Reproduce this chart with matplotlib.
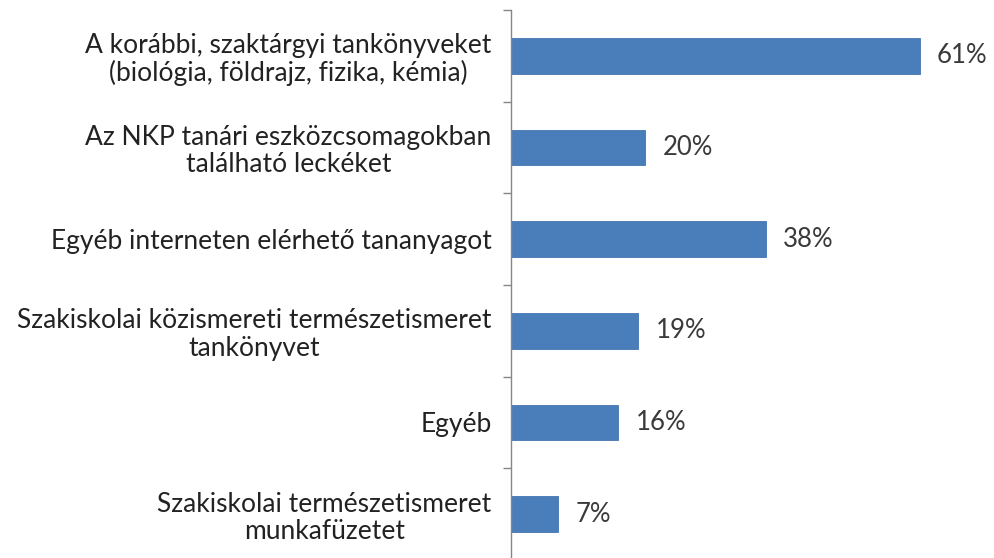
import matplotlib
matplotlib.use("Agg")
import matplotlib.pyplot as plt
import numpy as np

categories = [
    "A korábbi, szaktárgyi tankönyveket\n(biológia, földrajz, fizika, kémia)",
    "Az NKP tanári eszközcsomagokban\ntalálható leckéket",
    "Egyéb interneten elérhető tananyagot",
    "Szakiskolai közismereti természetismeret\ntankönyvet",
    "Egyéb",
    "Szakiskolai természetismeret\nmunkafüzetet",
]
values = [61, 20, 38, 19, 16, 7]
value_labels = ["61%", "20%", "38%", "19%", "16%", "7%"]

plt.rcParams["font.family"] = ["Lato", "DejaVu Sans"]

fig = plt.figure(figsize=(9.95, 5.58), dpi=100)
ax = fig.add_axes([511 / 995, 1 - 560 / 558, 469 / 995, 550 / 558])

y = np.arange(len(categories))
ax.barh(y, values, height=0.39, color="#4a7ebb", edgecolor="#4274b0", linewidth=0.6)

ax.set_xlim(0, 70)
ax.set_ylim(len(categories) - 0.5, -0.5)

for yi, v, lab in zip(y, values, value_labels):
    ax.text(v + 2.6, yi, lab, va="center", ha="left", fontsize=18.5, color="#3a3a3a")

ax.set_yticks(y)
ax.set_yticklabels(categories, fontsize=19, color="#222222", multialignment="center",
                   linespacing=1.12)
ax.tick_params(axis="y", which="major", length=0, pad=14)
ax.set_yticks(np.arange(len(categories) + 1) - 0.5, minor=True)
ax.tick_params(axis="y", which="minor", length=6, color="#868686", width=1)

ax.set_xticks([])
for s in ["top", "right", "bottom"]:
    ax.spines[s].set_visible(False)
ax.spines["left"].set_color("#868686")
ax.spines["left"].set_linewidth(1)

fig.savefig("out.png", dpi=100)
